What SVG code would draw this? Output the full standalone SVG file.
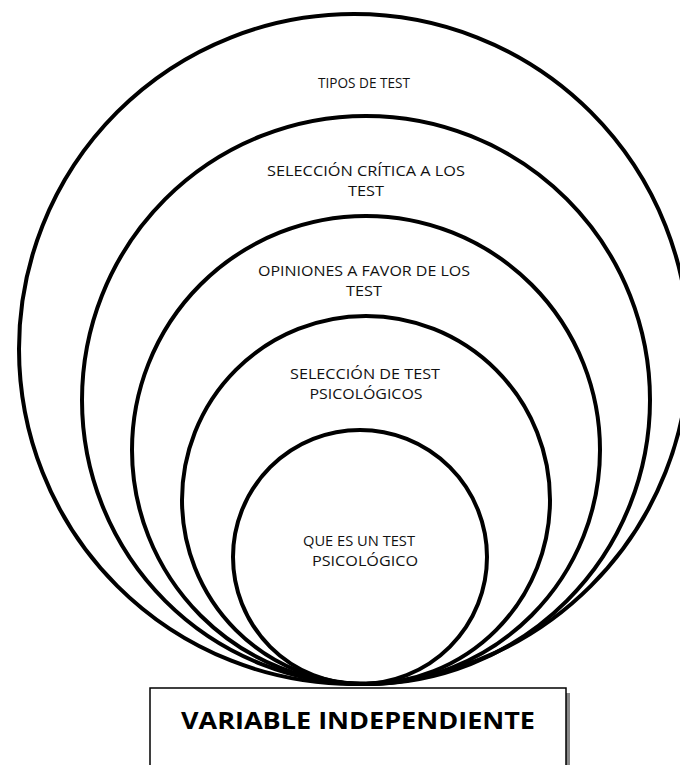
<svg xmlns="http://www.w3.org/2000/svg" width="680" height="765" viewBox="0 0 680 765">
<style>
.ring{fill:none;stroke:#000;stroke-width:4}
.lbl{font-family:"Open Sans","Liberation Sans",sans-serif;font-size:14.5px;fill:#111;text-anchor:middle}
.title{font-family:"Open Sans","Liberation Sans",sans-serif;font-size:24px;font-weight:bold;fill:#000;text-anchor:middle}
</style>
<rect width="680" height="765" fill="#fff"/>
<g id="c1"><circle class="ring" cx="354" cy="349" r="335"/>
<text class="lbl" x="364" y="88" textLength="92" lengthAdjust="spacingAndGlyphs">TIPOS DE TEST</text></g>
<g id="c2"><circle class="ring" cx="366" cy="400" r="284"/>
<text class="lbl" x="366" y="176" textLength="198" lengthAdjust="spacingAndGlyphs">SELECCIÓN CRÍTICA A LOS</text>
<text class="lbl" x="366" y="196" textLength="36" lengthAdjust="spacingAndGlyphs">TEST</text></g>
<g id="c3"><circle class="ring" cx="366" cy="450" r="234"/>
<text class="lbl" x="364" y="276" textLength="212" lengthAdjust="spacingAndGlyphs">OPINIONES A FAVOR DE LOS</text>
<text class="lbl" x="364" y="296" textLength="36" lengthAdjust="spacingAndGlyphs">TEST</text></g>
<g id="c4"><circle class="ring" cx="366" cy="500" r="184"/>
<text class="lbl" x="365" y="379" textLength="150" lengthAdjust="spacingAndGlyphs">SELECCIÓN DE TEST</text>
<text class="lbl" x="366" y="399" textLength="113" lengthAdjust="spacingAndGlyphs">PSICOLÓGICOS</text></g>
<g id="c5"><circle class="ring" cx="360" cy="557" r="127"/>
<text class="lbl" x="359" y="546" textLength="112" lengthAdjust="spacingAndGlyphs">QUE ES UN TEST</text>
<text class="lbl" x="365" y="566" textLength="106" lengthAdjust="spacingAndGlyphs">PSICOLÓGICO</text></g>
<g id="box">
<rect x="566" y="693" width="4" height="80" fill="#888"/>
<rect x="150" y="688" width="416" height="90" fill="#fff" stroke="#000" stroke-width="1.5"/>
<text class="title" x="358" y="729" textLength="354" lengthAdjust="spacingAndGlyphs">VARIABLE INDEPENDIENTE</text></g>
</svg>
